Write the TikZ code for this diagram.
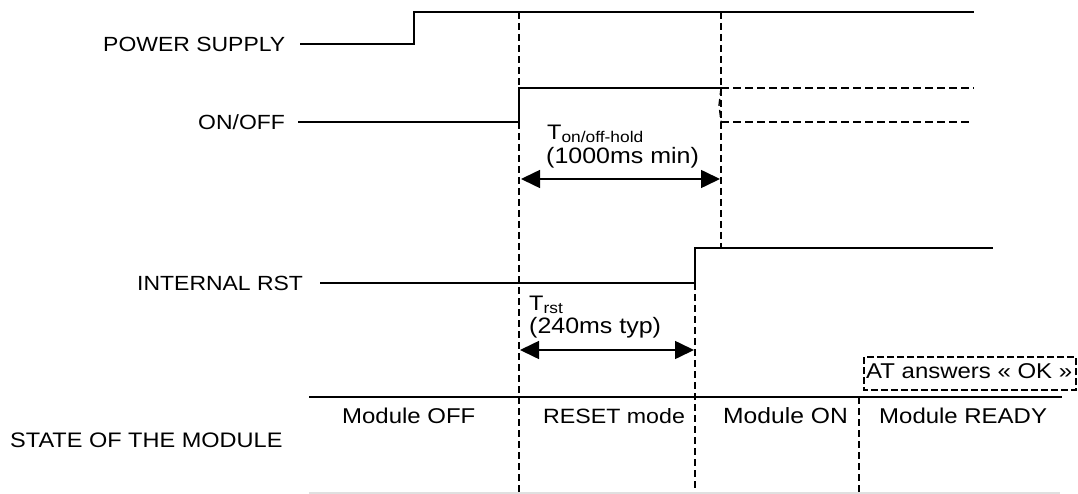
\documentclass[tikz,border=0pt]{standalone}
\usepackage{fontspec}
\setmainfont[FakeStretch=1.12]{Liberation Sans}
\usetikzlibrary{arrows.meta}
\newcommand{\fsz}[1]{\fontsize{#1}{#1}\selectfont}
\begin{document}
\begin{tikzpicture}[x=1pt,y=-1pt,
  sig/.style={line width=1.9pt, line join=miter},
  dsig/.style={line width=1.7pt, dash pattern=on 8pt off 4pt},
  guide/.style={line width=1.3pt, dash pattern=on 7pt off 4pt},
  lab/.style={inner sep=0pt, anchor=base west, font=\fsz{20.5}},
  st/.style={inner sep=0pt, anchor=base west, font=\fsz{21.4}},
  par/.style={inner sep=0pt, anchor=base west, font=\fsz{22.3}},
  dim/.style={line width=1.6pt, {Triangle[length=19pt,width=18pt]}-{Triangle[length=19pt,width=18pt]}}]
\useasboundingbox (0,0) rectangle (1078,494);
% labels
\node[lab] (ps) at (103,52) {POWER SUPPLY};
\node[lab] (onoff) at (198,130) {ON/OFF};
\node[lab] (rst) at (137,290) {INTERNAL RST};
\node[lab, font=\fsz{21}] (state) at (10,447) {STATE OF THE MODULE};
% power supply
\draw[sig] (300,44) -- (414,44) -- (414,12) -- (974,12);
% on/off
\draw[sig] (298,122) -- (519,122) -- (519,88) -- (721,88);
\draw[dsig] (721,88) -- (974,88);
\draw[guide] (721,88) -- (719,105) -- (721,122);
\draw[dsig] (721,122) -- (970,122);
% internal rst
\draw[sig] (320,283) -- (695,283) -- (695,248) -- (993,248);
% guides
\draw[guide] (519,12) -- (519,494);
\draw[guide] (721,12) -- (721,248);
\draw[guide] (695,283) -- (695,494);
\draw[guide] (859,397) -- (859,494);
% state lines
\draw[line width=1.9pt] (309,397) -- (1062,397);
\draw[line width=1.2pt, black!12] (309,493) -- (1060,493);
% timing annotations
\coordinate (a1) at (521,179);
\coordinate (b1) at (720,179);
\draw[dim] (a1) -- (b1);
\node[inner sep=0pt, anchor=base west, font=\fsz{21}] (ton) at (547,140) {T\raisebox{-3pt}{\fsz{15.5}on/off-hold}};
\node[par] (tonv) at (546,164) {(1000ms min)};
\coordinate (a2) at (520,350);
\coordinate (b2) at (694,350);
\draw[dim] (a2) -- (b2);
\node[inner sep=0pt, anchor=base west, font=\fsz{21}] (trst) at (529,310) {T\raisebox{-3pt}{\fsz{15.5}rst}};
\node[par] (trstv) at (529,333) {(240ms typ)};
% AT box
\draw[line width=1.6pt, dash pattern=on 7pt off 3pt] (864,357) rectangle (1076,390);
\node[st] (at) at (866,378) {AT answers « OK »};
% states
\node[st] (s1) at (342,423) {Module OFF};
\node[st, font=\fsz{20.7}] (s2) at (543,423) {RESET mode};
\node[st, font=\fsz{22}] (s3) at (723,423) {Module ON};
\node[st] (s4) at (879,423) {Module READY};
\end{tikzpicture}
\end{document}
